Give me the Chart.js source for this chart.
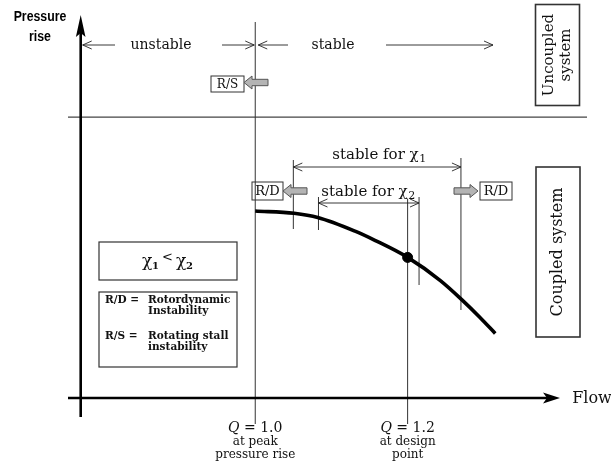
<!DOCTYPE html>
<html><head><meta charset="utf-8">
<script src="https://cdn.jsdelivr.net/npm/chart.js@4/dist/chart.umd.min.js"></script>
<style>html,body{margin:0;padding:0;background:#fff}#wrap{width:611px;height:468px}</style>
</head><body><div id="wrap"><canvas id="c" width="611" height="468"></canvas></div>
<script>
// Pump characteristic: flow Q against pressure rise (arbitrary units)
const flowQ        = [1.0, 1.051, 1.082, 1.131, 1.157, 1.2, 1.243, 1.271, 1.295, 1.315];
const pressureRise = [4.92, 4.86, 4.75, 4.39, 4.15, 3.70, 3.09, 2.59, 2.12, 1.70];
const designPoint  = [1.2, 3.70];
// Stability limits in flow
const peakFlow   = 1.0;
const stableChi1 = [1.05, 1.27];
const stableChi2 = [1.083, 1.215];
// Flow axis labels
const tickValues = [1.0, 1.2];
const tickLabels = [["Q", " = 1.0", "at peak", "pressure rise"], ["Q", " = 1.2", "at design", "point"]];

const SERIF = '"DejaVu Serif", "Liberation Serif", serif';
const INK = '#222';

function seg(ctx, x1, y1, x2, y2, w, c) {
  ctx.save(); ctx.strokeStyle = c || INK; ctx.lineWidth = w || 1;
  ctx.beginPath(); ctx.moveTo(x1, y1); ctx.lineTo(x2, y2); ctx.stroke(); ctx.restore();
}
// open chevron arrow head; dir = +1 points right, -1 points left
function chevron(ctx, x, y, dir) {
  ctx.save(); ctx.strokeStyle = INK; ctx.lineWidth = 0.9;
  ctx.beginPath(); ctx.moveTo(x - dir * 9, y - 4); ctx.lineTo(x, y); ctx.lineTo(x - dir * 9, y + 4); ctx.stroke();
  ctx.restore();
}
function dimArrow(ctx, x1, x2, y, headL, headR) {
  seg(ctx, x1, y, x2, y, 0.9);
  if (headL) chevron(ctx, x1, y, -1);
  if (headR) chevron(ctx, x2, y, 1);
}
// hollow grey block arrow; tip at x, dir = +1 right, -1 left
function blockArrow(ctx, tip, y, dir) {
  const L = 24, H = 8, s = 3.2, h = 6.5;
  const b = tip - dir * L, n = tip - dir * H;
  ctx.save(); ctx.fillStyle = '#b4b4b4'; ctx.strokeStyle = '#555'; ctx.lineWidth = 1;
  ctx.beginPath();
  ctx.moveTo(tip, y); ctx.lineTo(n, y - h); ctx.lineTo(n, y - s); ctx.lineTo(b, y - s);
  ctx.lineTo(b, y + s); ctx.lineTo(n, y + s); ctx.lineTo(n, y + h); ctx.closePath();
  ctx.fill(); ctx.stroke(); ctx.restore();
}
function box(ctx, x, y, w, h, lw) {
  ctx.save(); ctx.strokeStyle = '#333'; ctx.lineWidth = lw || 1.2; ctx.strokeRect(x, y, w, h); ctx.restore();
}
function txt(ctx, s, x, y, font, align) {
  ctx.save(); ctx.fillStyle = '#111'; ctx.font = font; ctx.textAlign = align || 'center'; ctx.textBaseline = 'middle';
  ctx.fillText(s, x, y); ctx.restore();
}
// text followed by a subscript, centred on x
function txtSub(ctx, s, sub, x, y, size) {
  ctx.save(); ctx.fillStyle = '#111'; ctx.textBaseline = 'middle';
  ctx.font = size + 'px ' + SERIF; const w1 = ctx.measureText(s).width;
  ctx.font = Math.round(size * 0.7) + 'px ' + SERIF; const w2 = ctx.measureText(sub).width;
  const x0 = x - (w1 + w2) / 2;
  ctx.font = size + 'px ' + SERIF; ctx.textAlign = 'left'; ctx.fillText(s, x0, y);
  ctx.font = Math.round(size * 0.7) + 'px ' + SERIF; ctx.fillText(sub, x0 + w1 + 0.5, y + size * 0.3);
  ctx.restore();
}
function rotText(ctx, lines, cx, cy, size, gap) {
  ctx.save(); ctx.translate(cx, cy); ctx.rotate(-Math.PI / 2);
  ctx.fillStyle = '#111'; ctx.font = size + 'px ' + SERIF; ctx.textAlign = 'center'; ctx.textBaseline = 'middle';
  const off = (lines.length - 1) * gap / 2;
  lines.forEach((l, i) => ctx.fillText(l, 0, -off + i * gap));
  ctx.restore();
}

const diagram = {
  id: 'diagram',
  beforeDatasetsDraw(chart) {
    const ctx = chart.ctx, xs = chart.scales.x, ys = chart.scales.y, a = chart.chartArea;
    const X = v => xs.getPixelForValue(v), Y = v => ys.getPixelForValue(v);
    const x0 = a.left + 0.7, y0 = Y(0);

    // divider between uncoupled / coupled system
    const yDiv = Y(7.39);
    seg(ctx, 68, yDiv, 587, yDiv, 1.3, '#444');

    // peak and design flow lines
    seg(ctx, X(peakFlow), 22, X(peakFlow), 424, 1, '#333');
    seg(ctx, X(designPoint[0]), Y(5.25), X(designPoint[0]), 424, 1, '#333');

    // stability range limits
    seg(ctx, X(stableChi1[0]), 160, X(stableChi1[0]), 229, 1, '#333');
    seg(ctx, X(stableChi1[1]), 158, X(stableChi1[1]), 310, 1, '#333');
    seg(ctx, X(stableChi2[0]), 197, X(stableChi2[0]), 230, 1, '#333');
    seg(ctx, X(stableChi2[1]), 197, X(stableChi2[1]), 285, 1, '#333');

    // axes
    seg(ctx, x0, 417, x0, 32, 2.6, '#000');
    seg(ctx, 68, y0, a.right - 10, y0, 2.6, '#000');
    ctx.save(); ctx.fillStyle = '#000';
    ctx.beginPath(); ctx.moveTo(x0, 15); ctx.lineTo(x0 + 4.8, 37); ctx.lineTo(x0, 33); ctx.lineTo(x0 - 4.8, 37); ctx.closePath(); ctx.fill();
    ctx.beginPath(); ctx.moveTo(a.right, y0); ctx.lineTo(a.right - 17, y0 - 5.5); ctx.lineTo(a.right - 13, y0); ctx.lineTo(a.right - 17, y0 + 5.5); ctx.closePath(); ctx.fill();
    ctx.restore();

    // axis titles (condensed bold sans)
    ctx.save(); ctx.fillStyle = '#000'; ctx.font = 'bold 14px "Liberation Sans", Arial, sans-serif';
    ctx.textAlign = 'center'; ctx.textBaseline = 'middle';
    ctx.translate(40, 0); ctx.scale(0.88, 1);
    ctx.fillText('Pressure', 0, 17); ctx.fillText('rise', 0, 37); ctx.restore();
    txt(ctx, 'Flow', 592, y0 + 1, '16px ' + SERIF);

    // flow tick labels
    tickValues.forEach((v, i) => {
      const lab = tickLabels[i], cx = X(v);
      ctx.save(); ctx.fillStyle = '#111'; ctx.textBaseline = 'middle'; ctx.textAlign = 'left';
      ctx.font = 'italic 14px ' + SERIF; const wq = ctx.measureText(lab[0]).width;
      ctx.font = '14px ' + SERIF; const wr = ctx.measureText(lab[1]).width;
      const sx = cx - (wq + wr) / 2;
      ctx.font = 'italic 14px ' + SERIF; ctx.fillText(lab[0], sx, 428);
      ctx.font = '14px ' + SERIF; ctx.fillText(lab[1], sx + wq, 428);
      ctx.restore();
      txt(ctx, lab[2], cx, 442, '12px ' + SERIF);
      txt(ctx, lab[3], cx, 455, '12px ' + SERIF);
    });

    // uncoupled system: stability along the flow axis
    const yTop = 45;
    dimArrow(ctx, x0 + 2, 115, yTop, true, false);
    txt(ctx, 'unstable', 161, yTop, '14px ' + SERIF);
    dimArrow(ctx, 222, X(peakFlow) - 1, yTop, false, true);
    dimArrow(ctx, X(peakFlow) + 3, 288, yTop, true, false);
    txt(ctx, 'stable', 333, yTop, '14px ' + SERIF);
    dimArrow(ctx, 386, 493, yTop, false, true);

    box(ctx, 211, 76, 33, 16, 1);
    txt(ctx, 'R/S', 227.5, 84.5, '12px ' + SERIF);
    blockArrow(ctx, 244, 82.5, -1);

    box(ctx, 535.5, 4.5, 44, 101, 1.6);
    rotText(ctx, ['Uncoupled', 'system'], 557.5, 55, 15, 17);

    // coupled system: stability ranges
    dimArrow(ctx, X(stableChi1[0]), X(stableChi1[1]), 167, true, true);
    txtSub(ctx, 'stable for \u03c7', '1', 379, 155, 15);
    dimArrow(ctx, X(stableChi2[0]), X(stableChi2[1]), 203, true, true);
    txtSub(ctx, 'stable for \u03c7', '2', 368, 192, 15);

    box(ctx, 252, 182, 31, 18, 1);
    txt(ctx, 'R/D', 267.5, 191.5, '13px ' + SERIF);
    blockArrow(ctx, 283, 191, -1);
    blockArrow(ctx, 478, 191, 1);
    box(ctx, 480, 182, 32, 18, 1);
    txt(ctx, 'R/D', 496, 191.5, '13px ' + SERIF);

    box(ctx, 536, 167, 44, 170, 1.6);
    rotText(ctx, ['Coupled system'], 558, 252, 16, 0);

    // key boxes
    box(ctx, 99, 242, 138, 38, 1.2);
    ctx.save(); ctx.fillStyle = '#111'; ctx.textBaseline = 'middle'; ctx.textAlign = 'left';
    ctx.font = '17px ' + SERIF; ctx.fillText('\u03c7', 142, 262);
    ctx.font = 'bold 10px ' + SERIF; ctx.fillText('1', 152, 266);
    ctx.font = '13px ' + SERIF; ctx.fillText('<', 162, 258);
    ctx.font = '17px ' + SERIF; ctx.fillText('\u03c7', 176, 262);
    ctx.font = 'bold 10px ' + SERIF; ctx.fillText('2', 186, 266);
    ctx.restore();

    box(ctx, 99, 292, 138, 75, 1.2);
    const kf = 'bold 10.5px ' + SERIF;
    txt(ctx, 'R/D =', 105, 300, kf, 'left');
    txt(ctx, 'Rotordynamic', 148, 300, kf, 'left');
    txt(ctx, 'Instability', 148, 311, kf, 'left');
    txt(ctx, 'R/S =', 105, 336, kf, 'left');
    txt(ctx, 'Rotating stall', 148, 336, kf, 'left');
    txt(ctx, 'instability', 148, 347, kf, 'left');
  }
};

new Chart(document.getElementById('c'), {
  type: 'line',
  data: {
    datasets: [
      {
        data: flowQ.map((q, i) => ({ x: q, y: pressureRise[i] })),
        borderColor: '#000', borderWidth: 3.6, pointRadius: 0,
        cubicInterpolationMode: 'monotone', fill: false
      },
      {
        data: [{ x: designPoint[0], y: designPoint[1] }],
        showLine: false, pointRadius: 5, pointBackgroundColor: '#000', pointBorderColor: '#000'
      }
    ]
  },
  options: {
    responsive: false, animation: false, devicePixelRatio: 1,
    layout: { padding: { left: 80, right: 51, top: 18, bottom: 70 } },
    plugins: { legend: { display: false }, tooltip: { enabled: false } },
    scales: {
      x: { type: 'linear', min: 0.77, max: 1.40, display: false },
      y: { type: 'linear', min: 0, max: 10, display: false }
    }
  },
  plugins: [diagram]
});
</script>
</body></html>
